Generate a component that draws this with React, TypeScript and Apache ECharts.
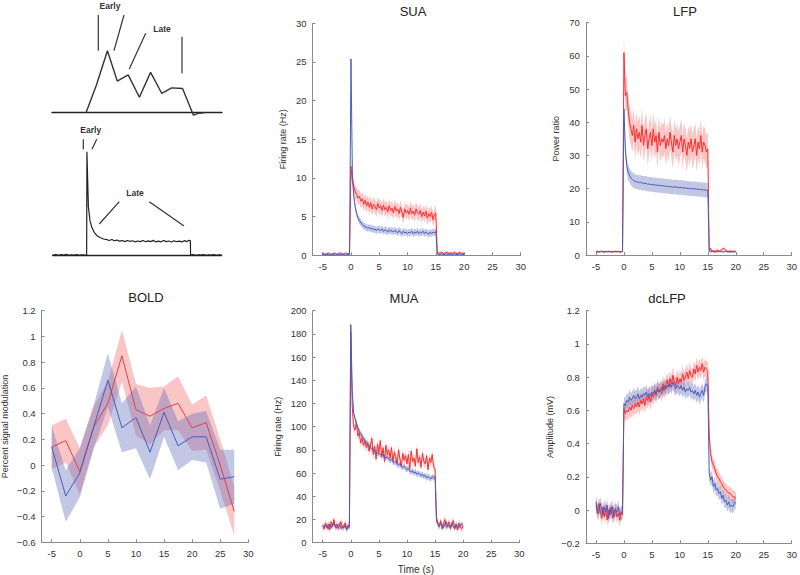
import React, { useEffect, useRef } from "react";
import * as echarts from "echarts";

// ---------- shared time base (s), -5 .. 20 in 0.25 s steps ----------
const T: number[] = Array.from({ length: 101 }, (_, i) => -5 + i * 0.25);
const X_TICKS = [-5, 0, 5, 10, 15, 20, 25, 30];

// ---------- SUA (Hz) ----------
const suaRed = [
  0.3, 0.2, 0.1, 0.2, 0.3, 0.2, 0.1, 0.2, 0.2, 0.3,
  0.1, 0.2, 0.3, 0.2, 0.2, 0.1, 0.3, 0.2, 0.2, 0.3,
  11.5, 9.6, 8.8, 8.2, 7.9, 7.4, 7.6, 7.0, 7.3, 6.6,
  7.1, 6.4, 6.9, 6.2, 6.8, 6.0, 6.6, 6.3, 5.9, 6.7,
  6.1, 6.4, 5.8, 6.5, 5.9, 6.2, 5.6, 6.4, 5.8, 6.1,
  5.5, 6.3, 5.7, 6.0, 5.4, 6.2, 5.6, 4.9, 6.0, 5.5,
  5.8, 5.3, 6.1, 5.4, 5.7, 5.2, 6.0, 5.5, 5.3, 5.8,
  5.0, 5.6, 5.1, 5.7, 4.8, 5.4, 5.0, 5.6, 4.6, 5.2,
  5.5, 0.4, 0.3, 0.2, 0.4, 0.3, 0.2, 0.3, 0.4, 0.2,
  0.3, 0.3, 0.2, 0.4, 0.3, 0.2, 0.3, 0.4, 0.2, 0.3,
  0.2,
];
const suaBlue = [
  0.1, 0.1, 0.0, 0.1, 0.1, 0.0, 0.1, 0.1, 0.1, 0.0,
  0.1, 0.1, 0.1, 0.0, 0.1, 0.1, 0.0, 0.1, 0.1, 0.1,
  25.4, 10.5, 7.6, 6.2, 5.4, 4.8, 4.5, 4.2, 4.0, 3.8,
  3.7, 3.6, 3.5, 3.6, 3.4, 3.5, 3.3, 3.4, 3.2, 3.4,
  3.3, 3.2, 3.4, 3.1, 3.3, 3.2, 3.0, 3.3, 3.1, 3.2,
  3.0, 3.2, 3.1, 2.9, 3.2, 3.0, 2.8, 3.1, 2.9, 3.0,
  2.8, 3.0, 2.9, 3.1, 2.8, 3.0, 2.9, 3.1, 2.8, 3.0,
  2.9, 3.1, 2.8, 3.0, 2.9, 2.7, 3.0, 2.8, 3.0, 2.9,
  3.1, 0.2, 0.1, 0.1, 0.2, 0.1, 0.1, 0.2, 0.1, 0.1,
  0.2, 0.1, 0.1, 0.2, 0.1, 0.1, 0.1, 0.2, 0.1, 0.1,
  0.1,
];
// SEM per phase: [baseline, stimulus, post]
const suaRedSem = [0.15, 0.9, 0.2];
const suaBlueSem = [0.1, 0.45, 0.1];

// ---------- LFP (power ratio) ----------
const lfpRed = [
  1.0, 1.1, 0.9, 1.0, 1.1, 1.0, 0.9, 1.1, 1.0, 1.0,
  1.1, 0.9, 1.0, 1.1, 1.0, 1.0, 1.1, 0.9, 1.0, 1.1,
  61, 48, 49, 44, 40, 38, 36, 39, 34, 38,
  35, 37, 34, 39, 33, 36, 38, 32, 35, 37,
  33, 38, 34, 36, 31, 37, 33, 35, 34, 36,
  32, 35, 33, 37, 34, 31, 36, 33, 35, 32,
  34, 36, 31, 35, 33, 30, 34, 32, 35, 31,
  33, 35, 30, 34, 32, 36, 31, 34, 33, 31,
  32, 1.2, 2.0, 1.1, 1.3, 1.0, 1.2, 1.5, 1.1, 1.3,
  1.6, 2.0, 1.8, 1.3, 1.1, 1.0, 1.2, 1.1, 1.0, 1.1,
  1.0,
];
const lfpBlue = [
  1.0, 0.9, 1.0, 1.0, 1.1, 1.0, 0.9, 1.0, 1.0, 1.1,
  1.0, 1.0, 0.9, 1.0, 1.1, 1.0, 1.0, 0.9, 1.0, 1.0,
  44, 32, 27, 25, 24, 23.2, 22.8, 22.4, 22.2, 22.0,
  22.0, 21.8, 21.9, 21.6, 21.7, 21.5, 21.6, 21.3, 21.4, 21.2,
  21.3, 21.1, 21.2, 21.0, 21.1, 20.9, 21.0, 20.8, 20.9, 20.7,
  20.8, 20.6, 20.7, 20.5, 20.6, 20.4, 20.5, 20.6, 20.3, 20.4,
  20.3, 20.4, 20.2, 20.3, 20.1, 20.2, 20.0, 20.1, 19.9, 20.0,
  19.9, 20.0, 19.8, 19.9, 19.7, 19.8, 19.6, 19.7, 19.6, 19.5,
  19.5, 1.1, 1.0, 1.0, 1.1, 0.9, 1.0, 1.0, 1.1, 1.0,
  1.0, 0.9, 1.0, 1.1, 1.0, 1.0, 0.9, 1.0, 1.0, 1.0,
  1.0,
];
const lfpRedSem = [0.3, 5, 0.4];
const lfpBlueSem = [0.2, 2.2, 0.2];

// ---------- MUA (Hz) ----------
const muaRed = [
  15, 12, 17, 13, 16, 11, 18, 14, 20, 13,
  16, 12, 15, 18, 13, 14, 17, 12, 15, 14,
  182, 118, 100, 97, 104, 92, 95, 86, 90, 84,
  88, 82, 86, 79, 84, 90, 76, 83, 72, 85,
  78, 88, 74, 82, 70, 84, 76, 80, 73, 82,
  70, 78, 74, 68, 80, 72, 66, 77, 71, 75,
  68, 76, 64, 79, 70, 73, 66, 81, 69, 74,
  65, 77, 70, 68, 75, 63, 73, 69, 76, 65,
  64, 22, 17, 14, 19, 12, 16, 20, 13, 15,
  18, 12, 16, 19, 13, 15, 11, 17, 14, 12,
  14,
];
const muaBlue = [
  14, 13, 15, 14, 12, 16, 13, 15, 17, 14,
  13, 15, 16, 12, 14, 13, 15, 11, 14, 13,
  188, 132, 112, 107, 103, 99, 96, 94, 92, 90,
  88, 86, 85, 84, 82, 81, 80, 79, 78, 77,
  77, 76, 75, 76, 74, 73, 74, 72, 71, 72,
  70, 69, 70, 68, 67, 68, 66, 65, 66, 64,
  63, 64, 62, 61, 62, 60, 61, 59, 60, 59,
  58, 59, 57, 58, 56, 57, 56, 55, 57, 56,
  57, 19, 16, 14, 17, 15, 13, 16, 18, 14,
  15, 13, 17, 14, 12, 16, 14, 13, 15, 16,
  15,
];
const muaRedSem = [3, 4, 3];
const muaBlueSem = [2, 2.5, 2];

// ---------- dcLFP (mV) ----------
const dcRed = [
  0.03, -0.02, 0.04, 0.0, -0.05, 0.02, -0.04, 0.01, -0.06, 0.0,
  -0.03, 0.02, -0.05, -0.01, 0.01, -0.04, -0.02, -0.06, -0.01, -0.03,
  0.61, 0.58, 0.60, 0.59, 0.62, 0.60, 0.63, 0.61, 0.64, 0.62,
  0.65, 0.62, 0.66, 0.64, 0.67, 0.63, 0.68, 0.66, 0.69, 0.65,
  0.70, 0.68, 0.72, 0.69, 0.74, 0.71, 0.73, 0.70, 0.76, 0.72,
  0.75, 0.78, 0.74, 0.79, 0.76, 0.81, 0.77, 0.75, 0.80, 0.76,
  0.79, 0.77, 0.82, 0.78, 0.80, 0.83, 0.79, 0.84, 0.81, 0.80,
  0.85, 0.82, 0.87, 0.83, 0.86, 0.84, 0.88, 0.83, 0.86, 0.85,
  0.84, 0.45, 0.34, 0.29, 0.27, 0.25, 0.22, 0.20, 0.19, 0.17,
  0.16, 0.14, 0.13, 0.12, 0.11, 0.10, 0.10, 0.09, 0.08, 0.08,
  0.07,
];
const dcBlue = [
  0.05, 0.0, -0.02, 0.04, 0.01, -0.03, 0.02, -0.01, 0.03, -0.05,
  0.01, -0.02, 0.02, -0.04, 0.0, -0.01, 0.02, -0.03, -0.02, -0.01,
  0.64, 0.63, 0.66, 0.65, 0.68, 0.66, 0.67, 0.69, 0.67, 0.68,
  0.70, 0.67, 0.69, 0.68, 0.70, 0.69, 0.71, 0.68, 0.70, 0.69,
  0.71, 0.70, 0.72, 0.70, 0.73, 0.71, 0.72, 0.74, 0.72, 0.75,
  0.73, 0.75, 0.74, 0.76, 0.74, 0.77, 0.75, 0.73, 0.75, 0.74,
  0.73, 0.75, 0.72, 0.74, 0.71, 0.73, 0.72, 0.74, 0.71, 0.72,
  0.70, 0.72, 0.69, 0.71, 0.68, 0.70, 0.72, 0.69, 0.74, 0.76,
  0.75, 0.22, 0.18, 0.20, 0.14, 0.16, 0.12, 0.13, 0.10, 0.11,
  0.07, 0.09, 0.05, 0.06, 0.03, 0.05, 0.02, 0.03, 0.02, 0.04,
  0.05,
];
const dcRedSem = [0.04, 0.05, 0.04];
const dcBlueSem = [0.04, 0.045, 0.04];

// ---------- BOLD (% signal modulation) ----------
const boldT = [-5, -2.5, 0, 2.5, 5, 7.5, 10, 12.5, 15, 17.5, 20, 22.5, 25, 27.5];
const boldRed = [0.14, 0.19, -0.05, 0.3, 0.48, 0.85, 0.43, 0.38, 0.44, 0.48, 0.29, 0.33, 0.0, -0.36];
const boldRedSem = [0.17, 0.17, 0.18, 0.16, 0.17, 0.2, 0.2, 0.22, 0.17, 0.21, 0.18, 0.21, 0.2, 0.19];
const boldBlue = [0.14, -0.24, -0.06, 0.3, 0.66, 0.29, 0.37, 0.1, 0.41, 0.15, 0.22, 0.22, -0.11, -0.09];
const boldBlueSem = [0.16, 0.2, 0.19, 0.17, 0.21, 0.19, 0.24, 0.21, 0.19, 0.19, 0.18, 0.2, 0.23, 0.21];

// ---------- schematic traces (arbitrary units) ----------
const schemBoldX = [0, 3.1, 6.3, 9.2, 12.4, 15.7, 19.0, 22.3, 25.2, 28.4, 31.6, 33.0, 34.7];
const schemBoldY = [0, 0.45, 1.0, 0.51, 0.61, 0.25, 0.65, 0.31, 0.4, 0.39, -0.04, -0.01, 0];
const schemMua: number[][] = [
  [-6.6, 0], [-6, 0.005], [-5.5, -0.003], [-5, 0.004], [-4.5, 0], [-4, 0.006], [-3.5, -0.002],
  [-3, 0.003], [-2.5, 0], [-2, 0.004], [-1.5, -0.003], [-1, 0.002], [-0.5, 0], [-0.05, 0],
  [0, 1.0], [0.28, 0.47], [0.6, 0.33], [0.94, 0.27], [1.4, 0.22], [1.9, 0.19], [2.5, 0.17],
  [3.2, 0.155], [3.8, 0.15], [4.3, 0.14], [4.8, 0.15], [5.3, 0.138], [5.8, 0.145], [6.3, 0.135],
  [6.8, 0.14], [7.3, 0.13], [7.8, 0.14], [8.3, 0.133], [8.8, 0.138], [9.3, 0.128], [9.8, 0.136],
  [10.3, 0.13], [10.8, 0.14], [11.3, 0.128], [11.8, 0.137], [12.3, 0.13], [12.8, 0.142],
  [13.3, 0.127], [13.8, 0.135], [14.3, 0.128], [14.8, 0.14], [15.3, 0.13], [15.8, 0.136],
  [16.3, 0.126], [16.8, 0.138], [17.3, 0.129], [17.8, 0.134], [18.3, 0.127], [18.8, 0.139],
  [19.3, 0.13], [19.7, 0.142], [19.95, 0.14], [20, 0], [20.5, 0.004], [21, -0.003],
  [21.5, 0.003], [22, 0], [22.5, 0.004], [23, -0.002], [23.5, 0.003], [24, 0], [24.5, 0.004],
  [25, -0.002], [25.5, 0.002], [26, 0],
];

// ---------- styling ----------
const FONT = '"Liberation Sans", Arial, Helvetica, sans-serif';
const RED = "#ff2d2d";
const BLUE = "#4b5cb8";
const RED_BAND = "rgba(240,80,80,0.33)";
const BLUE_BAND = "rgba(100,115,190,0.4)";
const AXIS = "#8a8a8a";
const TXT = "#333333";

function phaseSem(s: number[]) {
  return T.map((t) => (t < 0 ? s[0] : t <= 15 ? s[1] : s[2]));
}

function bandSeries(idx: number, xs: number[], ys: number[], sem: number[], color: string) {
  const pts = xs.map((x, i) => [x, ys[i] - sem[i], ys[i] + sem[i]]);
  return {
    type: "custom",
    coordinateSystem: "cartesian2d",
    xAxisIndex: idx,
    yAxisIndex: idx,
    silent: true,
    clip: true,
    data: pts,
    encode: { x: 0, y: [1, 2] },
    renderItem: (params: any, api: any) => {
      if (params.dataIndex !== 0) return null;
      const upper = pts.map((p) => api.coord([p[0], p[2]]));
      const lower = pts.map((p) => api.coord([p[0], p[1]])).reverse();
      return {
        type: "polygon",
        shape: { points: upper.concat(lower) },
        style: { fill: color, stroke: "none" },
        silent: true,
      };
    },
  };
}

function lineSeries(idx: number, xs: number[], ys: number[], color: string, width = 1) {
  return {
    type: "line",
    xAxisIndex: idx,
    yAxisIndex: idx,
    data: xs.map((x, i) => [x, ys[i]]),
    showSymbol: false,
    symbol: "none",
    silent: true,
    lineStyle: { color, width },
    itemStyle: { color },
  };
}

function xAx(gi: number, name?: string) {
  return {
    type: "value",
    gridIndex: gi,
    min: -6.8,
    max: 30,
    axisLine: { show: true, onZero: false, lineStyle: { color: AXIS, width: 1 } },
    axisTick: { show: true, inside: true, length: 3, customValues: X_TICKS, lineStyle: { color: AXIS } },
    axisLabel: { show: true, customValues: X_TICKS, fontSize: 9.5, color: TXT, margin: 6, fontFamily: FONT },
    splitLine: { show: false },
    name: name || "",
    nameLocation: "middle",
    nameGap: 22,
    nameTextStyle: { fontSize: 10, color: TXT, fontFamily: FONT },
  };
}

function yAx(gi: number, min: number, max: number, interval: number, name: string, gap: number) {
  return {
    type: "value",
    gridIndex: gi,
    min,
    max,
    interval,
    axisLine: { show: true, onZero: false, lineStyle: { color: AXIS, width: 1 } },
    axisTick: { show: true, inside: true, length: 3, lineStyle: { color: AXIS } },
    axisLabel: {
      show: true,
      fontSize: 9.5,
      color: TXT,
      margin: 6,
      fontFamily: FONT,
      formatter: (v: number) => String(+v.toFixed(2)).replace("-", "\u2212"),
    },
    splitLine: { show: false },
    name,
    nameLocation: "middle",
    nameGap: gap,
    nameTextStyle: { fontSize: 9, color: TXT, fontFamily: FONT },
  };
}

function hiddenAx(gi: number, min: number, max: number, isX: boolean) {
  return {
    type: "value",
    gridIndex: gi,
    min,
    max,
    axisLine: isX ? { show: true, onZero: true, lineStyle: { color: "#222", width: 1.3 } } : { show: false },
    axisTick: { show: false },
    axisLabel: { show: false },
    splitLine: { show: false },
  };
}

function title(text: string, x: number, y: number) {
  return {
    type: "text",
    x,
    y,
    silent: true,
    style: {
      text,
      fill: "#222",
      fontSize: 13,
      fontFamily: FONT,
      align: "center",
      verticalAlign: "middle",
      textAlign: "center",
      textVerticalAlign: "middle",
    },
  };
}

function label(text: string, x: number, y: number) {
  return {
    type: "text",
    x,
    y,
    silent: true,
    style: {
      text,
      fill: "#333",
      fontSize: 8.5,
      fontWeight: "bold",
      fontFamily: FONT,
      align: "center",
      verticalAlign: "middle",
      textAlign: "center",
      textVerticalAlign: "middle",
    },
  };
}

function seg(x1: number, y1: number, x2: number, y2: number) {
  return {
    type: "line",
    silent: true,
    shape: { x1, y1, x2, y2 },
    style: { stroke: "#333", lineWidth: 1.2 },
  };
}

export default function App() {
  const ref = useRef<HTMLDivElement>(null);

  useEffect(() => {
    if (!ref.current) return;
    const chart = echarts.init(ref.current, undefined, { renderer: "svg" });

    const grids = [
      { left: 312.5, top: 23.3, width: 208.2, height: 232 }, // SUA
      { left: 585.9, top: 22.7, width: 205.8, height: 232.3 }, // LFP
      { left: 41.6, top: 310.7, width: 206.7, height: 231.6 }, // BOLD
      { left: 312.6, top: 310.7, width: 206.7, height: 232 }, // MUA
      { left: 585.9, top: 310.7, width: 205.8, height: 232.6 }, // dcLFP
      { left: 52, top: 50.7, width: 170, height: 68.2 }, // schematic top
      { left: 52.7, top: 151.7, width: 169, height: 108.5 }, // schematic bottom
    ].map((g) => ({ ...g, containLabel: false, outerBoundsMode: "none", show: false }));

    const xAxis = [
      xAx(0),
      xAx(1),
      xAx(2),
      xAx(3, "Time (s)"),
      xAx(4),
      hiddenAx(5, -10, 40, true),
      hiddenAx(6, -6.6, 26, true),
    ];
    const yAxis = [
      yAx(0, 0, 30, 5, "Firing rate (Hz)", 25),
      yAx(1, 0, 70, 10, "Power ratio", 25),
      yAx(2, -0.6, 1.2, 0.2, "Percent signal modulation", 32),
      yAx(3, 0, 200, 20, "Firing rate (Hz)", 30),
      yAx(4, -0.2, 1.2, 0.2, "Amplitude (mV)", 31),
      hiddenAx(5, -0.1, 1, false),
      hiddenAx(6, -0.05, 1, false),
    ];

    const series: any[] = [
      // SUA
      bandSeries(0, T, suaRed, phaseSem(suaRedSem), RED_BAND),
      lineSeries(0, T, suaRed, RED),
      bandSeries(0, T, suaBlue, phaseSem(suaBlueSem), BLUE_BAND),
      lineSeries(0, T, suaBlue, BLUE),
      // LFP
      bandSeries(1, T, lfpRed, phaseSem(lfpRedSem), RED_BAND),
      lineSeries(1, T, lfpRed, RED),
      bandSeries(1, T, lfpBlue, phaseSem(lfpBlueSem), BLUE_BAND),
      lineSeries(1, T, lfpBlue, BLUE),
      // BOLD
      bandSeries(2, boldT, boldRed, boldRedSem, RED_BAND),
      lineSeries(2, boldT, boldRed, "#e0404a"),
      bandSeries(2, boldT, boldBlue, boldBlueSem, BLUE_BAND),
      lineSeries(2, boldT, boldBlue, BLUE),
      // MUA
      bandSeries(3, T, muaRed, phaseSem(muaRedSem), RED_BAND),
      lineSeries(3, T, muaRed, RED),
      bandSeries(3, T, muaBlue, phaseSem(muaBlueSem), BLUE_BAND),
      lineSeries(3, T, muaBlue, BLUE),
      // dcLFP
      bandSeries(4, T, dcRed, phaseSem(dcRedSem), RED_BAND),
      lineSeries(4, T, dcRed, RED),
      bandSeries(4, T, dcBlue, phaseSem(dcBlueSem), BLUE_BAND),
      lineSeries(4, T, dcBlue, BLUE),
      // schematics
      lineSeries(5, schemBoldX, schemBoldY, "#333", 1.4),
      lineSeries(6, schemMua.map((p) => p[0]), schemMua.map((p) => p[1]), "#222", 1.2),
    ];

    const graphic = [
      title("SUA", 413, 11),
      title("LFP", 685, 11),
      title("BOLD", 146, 297.7),
      title("MUA", 404, 298.7),
      title("dcLFP", 667, 298.7),
      // schematic annotations
      label("Early", 110, 6),
      seg(98.3, 15, 98.3, 50.7),
      seg(124, 15, 114, 50.7),
      label("Late", 162, 29),
      seg(145.7, 33.3, 129.3, 69),
      seg(182, 36.7, 182, 73.3),
      label("Early", 90.7, 130),
      seg(83.3, 139.3, 83.3, 149.3),
      seg(96.7, 139.3, 92, 149.3),
      label("Late", 135, 193.3),
      seg(119.3, 201.7, 99.3, 224),
      seg(149.3, 201.7, 184, 226),
    ];

    chart.setOption({
      animation: false,
      backgroundColor: "#ffffff",
      textStyle: { fontFamily: FONT },
      grid: grids,
      xAxis,
      yAxis,
      series,
      graphic,
    });

    return () => chart.dispose();
  }, []);

  return (
    <div
      ref={ref}
      style={{ position: "absolute", left: 0, top: 0, width: 800, height: 575, background: "#fff" }}
    />
  );
}
